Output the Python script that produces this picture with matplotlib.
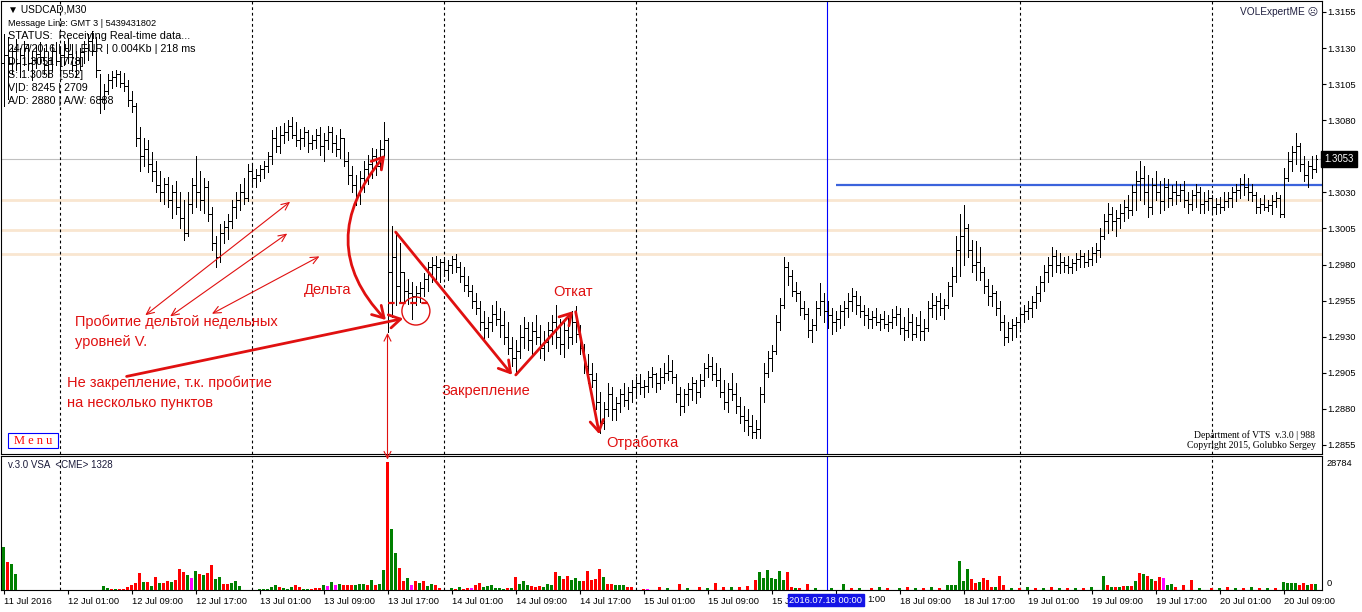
import matplotlib
matplotlib.use("Agg")
import numpy as np
import matplotlib.pyplot as plt
import matplotlib.transforms as mtransforms
from matplotlib.collections import LineCollection
from matplotlib.patches import FancyArrowPatch, Ellipse, ConnectionPatch, Rectangle
from matplotlib.path import Path

plt.rcParams['font.family'] = ['Liberation Sans', 'DejaVu Sans']

# ---------------- data (USDCAD M30) ----------------
first_bar = -14          # bar index of 11 Jul 2016 17:00 (0 = 12 Jul 00:00)
first_open = 1.3120

highs = [
    1.3140, 1.3138, 1.3132, 1.3136, 1.3130, 1.3135, 1.3133, 1.3128, 1.3132, 1.3134, 1.3130, 1.3127, 1.3132, 1.3134,
    1.3130, 1.3135, 1.3137, 1.3133, 1.3128, 1.3130, 1.3135, 1.3140, 1.3142, 1.3138, 1.3112, 1.3105, 1.3112, 1.3114, 1.3115, 1.3114,
    1.3113, 1.3108, 1.3100, 1.3092, 1.3075, 1.3068, 1.3066, 1.3058, 1.3052, 1.3045, 1.3040, 1.3041, 1.3035, 1.3038, 1.3030, 1.3025,
    1.3030, 1.3040, 1.3055, 1.3045, 1.3040, 1.3038, 1.3020, 1.3000, 1.3008, 1.3010, 1.3015, 1.3025, 1.3030, 1.3036, 1.3040, 1.3050,
    1.3050, 1.3046, 1.3049, 1.3052, 1.3058, 1.3073, 1.3075, 1.3076, 1.3078, 1.3080, 1.3082, 1.3079, 1.3074, 1.3075, 1.3073, 1.3070,
    1.3074, 1.3075, 1.3071, 1.3076, 1.3075, 1.3070, 1.3074, 1.3068, 1.3058, 1.3048, 1.3042, 1.3045, 1.3052, 1.3056, 1.3061, 1.3060,
    1.3066, 1.3079, 1.3068, 1.3007, 1.3002, 1.2995, 1.2975, 1.2970, 1.2968, 1.2965, 1.2968, 1.2974, 1.2982, 1.2985, 1.2986, 1.2984,
    1.2985, 1.2983, 1.2986, 1.2987, 1.2982, 1.2978, 1.2972, 1.2966, 1.2960, 1.2955, 1.2948, 1.2944, 1.2952, 1.2955, 1.2950, 1.2948,
    1.2940, 1.2930, 1.2928, 1.2938, 1.2944, 1.2940, 1.2940, 1.2945, 1.2938, 1.2934, 1.2940, 1.2945, 1.2952, 1.2942, 1.2940, 1.2945,
    1.2948, 1.2951, 1.2938, 1.2925, 1.2918, 1.2912, 1.2905, 1.2892, 1.2885, 1.2898, 1.2895, 1.2888, 1.2894, 1.2898, 1.2895, 1.2900,
    1.2902, 1.2904, 1.2900, 1.2906, 1.2909, 1.2905, 1.2908, 1.2912, 1.2917, 1.2914, 1.2904, 1.2895, 1.2894, 1.2898, 1.2902, 1.2900,
    1.2904, 1.2912, 1.2918, 1.2916, 1.2912, 1.2908, 1.2900, 1.2898, 1.2905, 1.2898, 1.2888, 1.2882, 1.2880, 1.2876, 1.2872, 1.2895,
    1.2912, 1.2920, 1.2924, 1.2945, 1.2957, 1.2985, 1.2982, 1.2976, 1.2968, 1.2962, 1.2955, 1.2950, 1.2942, 1.2955, 1.2967, 1.2960,
    1.2955, 1.2950, 1.2948, 1.2952, 1.2955, 1.2960, 1.2964, 1.2962, 1.2958, 1.2952, 1.2950, 1.2948, 1.2950, 1.2946, 1.2948, 1.2945,
    1.2949, 1.2951, 1.2950, 1.2944, 1.2950, 1.2946, 1.2944, 1.2948, 1.2942, 1.2955, 1.2960, 1.2958, 1.2960, 1.2956, 1.2968, 1.2978,
    1.3000, 1.3015, 1.3021, 1.3008, 1.2997, 1.2996, 1.2992, 1.2978, 1.2970, 1.2966, 1.2962, 1.2955, 1.2945, 1.2940, 1.2942, 1.2944,
    1.2950, 1.2952, 1.2955, 1.2958, 1.2965, 1.2972, 1.2980, 1.2985, 1.2992, 1.2990, 1.2988, 1.2985, 1.2986, 1.2984, 1.2988, 1.2990,
    1.2988, 1.2990, 1.2992, 1.2995, 1.3005, 1.3015, 1.3023, 1.3020, 1.3018, 1.3022, 1.3025, 1.3028, 1.3035, 1.3045, 1.3052, 1.3048,
    1.3042, 1.3040, 1.3045, 1.3038, 1.3040, 1.3039, 1.3035, 1.3038, 1.3036, 1.3038, 1.3030, 1.3032, 1.3036, 1.3034, 1.3030, 1.3032,
    1.3028, 1.3026, 1.3027, 1.3030, 1.3030, 1.3034, 1.3036, 1.3040, 1.3043, 1.3040, 1.3036, 1.3030, 1.3026, 1.3028, 1.3025, 1.3028,
    1.3030, 1.3028, 1.3047, 1.3058, 1.3062, 1.3071, 1.3064, 1.3055, 1.3052, 1.3055, 1.3056,
]
lows = [
    1.3090, 1.3095, 1.3112, 1.3115, 1.3110, 1.3118, 1.3115, 1.3108, 1.3116, 1.3120, 1.3112, 1.3110, 1.3115, 1.3118,
    1.3112, 1.3118, 1.3120, 1.3114, 1.3110, 1.3115, 1.3120, 1.3122, 1.3125, 1.3110, 1.3085, 1.3088, 1.3098, 1.3102, 1.3104, 1.3103,
    1.3100, 1.3090, 1.3086, 1.3062, 1.3045, 1.3048, 1.3044, 1.3038, 1.3030, 1.3024, 1.3022, 1.3020, 1.3012, 1.3015, 1.3005, 1.2997,
    1.3000, 1.3016, 1.3020, 1.3018, 1.3016, 1.3010, 1.2990, 1.2978, 1.2982, 1.2995, 1.2998, 1.3005, 1.3012, 1.3018, 1.3022, 1.3024,
    1.3035, 1.3034, 1.3038, 1.3040, 1.3044, 1.3050, 1.3058, 1.3057, 1.3064, 1.3066, 1.3068, 1.3062, 1.3060, 1.3062, 1.3058, 1.3060,
    1.3061, 1.3056, 1.3052, 1.3060, 1.3058, 1.3055, 1.3054, 1.3048, 1.3036, 1.3030, 1.3021, 1.3022, 1.3030, 1.3036, 1.3040, 1.3042,
    1.3046, 1.3055, 1.2933, 1.2944, 1.2952, 1.2955, 1.2955, 1.2953, 1.2942, 1.2952, 1.2954, 1.2958, 1.2962, 1.2968, 1.2970, 1.2968,
    1.2972, 1.2969, 1.2974, 1.2975, 1.2968, 1.2962, 1.2958, 1.2950, 1.2946, 1.2935, 1.2928, 1.2930, 1.2934, 1.2938, 1.2930, 1.2925,
    1.2918, 1.2910, 1.2905, 1.2915, 1.2922, 1.2921, 1.2918, 1.2925, 1.2915, 1.2914, 1.2920, 1.2925, 1.2922, 1.2918, 1.2916, 1.2922,
    1.2925, 1.2926, 1.2918, 1.2905, 1.2898, 1.2895, 1.2880, 1.2863, 1.2866, 1.2875, 1.2872, 1.2872, 1.2878, 1.2882, 1.2880, 1.2885,
    1.2888, 1.2890, 1.2888, 1.2892, 1.2895, 1.2892, 1.2894, 1.2898, 1.2900, 1.2898, 1.2885, 1.2876, 1.2878, 1.2883, 1.2886, 1.2884,
    1.2888, 1.2896, 1.2902, 1.2900, 1.2896, 1.2888, 1.2880, 1.2878, 1.2886, 1.2877, 1.2870, 1.2865, 1.2862, 1.2860, 1.2860, 1.2860,
    1.2885, 1.2902, 1.2906, 1.2918, 1.2935, 1.2950, 1.2966, 1.2958, 1.2955, 1.2945, 1.2942, 1.2930, 1.2926, 1.2935, 1.2945, 1.2940,
    1.2936, 1.2932, 1.2934, 1.2936, 1.2938, 1.2944, 1.2948, 1.2946, 1.2944, 1.2938, 1.2936, 1.2936, 1.2938, 1.2935, 1.2936, 1.2934,
    1.2936, 1.2938, 1.2932, 1.2928, 1.2930, 1.2928, 1.2930, 1.2928, 1.2928, 1.2934, 1.2944, 1.2942, 1.2945, 1.2942, 1.2950, 1.2958,
    1.2968, 1.2972, 1.2980, 1.2985, 1.2975, 1.2969, 1.2969, 1.2960, 1.2952, 1.2951, 1.2945, 1.2935, 1.2924, 1.2926, 1.2928, 1.2930,
    1.2936, 1.2940, 1.2942, 1.2944, 1.2950, 1.2955, 1.2962, 1.2968, 1.2972, 1.2975, 1.2974, 1.2975, 1.2974, 1.2974, 1.2976, 1.2978,
    1.2978, 1.2979, 1.2980, 1.2982, 1.2985, 1.2998, 1.3002, 1.3004, 1.3000, 1.3005, 1.3010, 1.3012, 1.3014, 1.3018, 1.3025, 1.3022,
    1.3013, 1.3015, 1.3025, 1.3016, 1.3018, 1.3020, 1.3021, 1.3022, 1.3024, 1.3020, 1.3016, 1.3018, 1.3020, 1.3016, 1.3016, 1.3018,
    1.3016, 1.3015, 1.3016, 1.3018, 1.3020, 1.3020, 1.3024, 1.3026, 1.3028, 1.3025, 1.3024, 1.3016, 1.3016, 1.3018, 1.3017, 1.3015,
    1.3020, 1.3013, 1.3013, 1.3038, 1.3045, 1.3050, 1.3045, 1.3038, 1.3034, 1.3040, 1.3044,
]
closes = [
    1.3125, 1.3120, 1.3128, 1.3120, 1.3125, 1.3130, 1.3120, 1.3122, 1.3126, 1.3124, 1.3118, 1.3122, 1.3128, 1.3121,
    1.3125, 1.3130, 1.3126, 1.3118, 1.3122, 1.3127, 1.3130, 1.3135, 1.3128, 1.3115, 1.3095, 1.3100, 1.3108, 1.3110, 1.3112, 1.3106,
    1.3104, 1.3094, 1.3090, 1.3068, 1.3055, 1.3060, 1.3050, 1.3045, 1.3035, 1.3030, 1.3036, 1.3025, 1.3030, 1.3020, 1.3012, 1.3002,
    1.3022, 1.3035, 1.3030, 1.3025, 1.3034, 1.3015, 1.2995, 1.2985, 1.3002, 1.3006, 1.3010, 1.3020, 1.3025, 1.3030, 1.3026, 1.3045,
    1.3040, 1.3042, 1.3046, 1.3048, 1.3055, 1.3068, 1.3062, 1.3070, 1.3072, 1.3076, 1.3070, 1.3066, 1.3068, 1.3072, 1.3064, 1.3066,
    1.3070, 1.3062, 1.3066, 1.3072, 1.3064, 1.3060, 1.3068, 1.3052, 1.3042, 1.3035, 1.3028, 1.3040, 1.3046, 1.3050, 1.3055, 1.3048,
    1.3060, 1.3066, 1.2975, 1.2985, 1.2965, 1.2975, 1.2962, 1.2960, 1.2958, 1.2960, 1.2964, 1.2970, 1.2978, 1.2980, 1.2978, 1.2982,
    1.2976, 1.2980, 1.2984, 1.2978, 1.2972, 1.2966, 1.2962, 1.2955, 1.2950, 1.2940, 1.2936, 1.2940, 1.2946, 1.2942, 1.2938, 1.2930,
    1.2922, 1.2915, 1.2920, 1.2930, 1.2936, 1.2928, 1.2934, 1.2930, 1.2922, 1.2926, 1.2935, 1.2940, 1.2930, 1.2925, 1.2935, 1.2930,
    1.2940, 1.2932, 1.2922, 1.2910, 1.2904, 1.2900, 1.2885, 1.2870, 1.2880, 1.2890, 1.2880, 1.2884, 1.2890, 1.2886, 1.2892, 1.2895,
    1.2898, 1.2895, 1.2896, 1.2902, 1.2904, 1.2898, 1.2902, 1.2905, 1.2906, 1.2902, 1.2890, 1.2882, 1.2890, 1.2894, 1.2898, 1.2892,
    1.2900, 1.2908, 1.2910, 1.2904, 1.2900, 1.2892, 1.2885, 1.2894, 1.2890, 1.2882, 1.2875, 1.2872, 1.2868, 1.2864, 1.2866, 1.2890,
    1.2905, 1.2915, 1.2920, 1.2940, 1.2952, 1.2978, 1.2972, 1.2962, 1.2960, 1.2950, 1.2946, 1.2935, 1.2938, 1.2950, 1.2955, 1.2948,
    1.2945, 1.2940, 1.2942, 1.2948, 1.2950, 1.2955, 1.2958, 1.2952, 1.2948, 1.2945, 1.2942, 1.2944, 1.2940, 1.2942, 1.2939, 1.2940,
    1.2944, 1.2946, 1.2936, 1.2935, 1.2940, 1.2932, 1.2938, 1.2934, 1.2936, 1.2950, 1.2952, 1.2955, 1.2950, 1.2952, 1.2965, 1.2972,
    1.2990, 1.3000, 1.3005, 1.2990, 1.2980, 1.2982, 1.2975, 1.2965, 1.2958, 1.2960, 1.2950, 1.2940, 1.2930, 1.2936, 1.2938, 1.2940,
    1.2946, 1.2948, 1.2950, 1.2954, 1.2960, 1.2968, 1.2975, 1.2980, 1.2986, 1.2980, 1.2982, 1.2980, 1.2978, 1.2981, 1.2984, 1.2986,
    1.2982, 1.2984, 1.2988, 1.2990, 1.3000, 1.3010, 1.3015, 1.3010, 1.3012, 1.3016, 1.3020, 1.3018, 1.3030, 1.3038, 1.3040, 1.3030,
    1.3020, 1.3035, 1.3030, 1.3024, 1.3034, 1.3026, 1.3030, 1.3028, 1.3032, 1.3025, 1.3022, 1.3028, 1.3030, 1.3022, 1.3024, 1.3026,
    1.3020, 1.3022, 1.3020, 1.3024, 1.3026, 1.3030, 1.3032, 1.3036, 1.3034, 1.3030, 1.3028, 1.3020, 1.3022, 1.3020, 1.3021, 1.3024,
    1.3026, 1.3015, 1.3040, 1.3052, 1.3058, 1.3062, 1.3050, 1.3042, 1.3048, 1.3046, 1.3053,
]
volumes = [
    9700, 6300, 5800, 3600, 0, 0, 0, 0, 0, 0, 0, 0, 0, 0,
    0, 0, 0, 0, 0, 0, 0, 0, 0, 0, 0, 820, 380, 220, 220, 220,
    220, 670, 1100, 1560, 3800, 1780, 1780, 960, 2900, 1560, 1560, 1940, 1780, 2230, 4680, 4010,
    3350, 2680, 4240, 3570, 3350, 3800, 5580, 2450, 2900, 1340, 1340, 1560, 2000, 900, 0, 0,
    0, 0, 220, 220, 220, 670, 1100, 670, 450, 220, 670, 1100, 670, 220, 220, 220,
    450, 450, 1100, 900, 1780, 1100, 1340, 1100, 1100, 1100, 1100, 1340, 1340, 1100, 2230, 1100,
    1340, 4460, 28784, 13600, 8250, 4900, 2000, 2680, 1100, 2000, 1560, 2000, 900, 1340, 1100, 450,
    0, 0, 450, 220, 670, 220, 450, 450, 1100, 1560, 670, 900, 1100, 450, 450, 220,
    450, 450, 2900, 1340, 2000, 1100, 900, 670, 900, 670, 1340, 1100, 4010, 3120, 2450, 3120,
    2230, 2680, 2000, 2000, 4240, 2230, 2450, 4680, 2900, 1340, 1340, 1100, 1100, 1100, 670, 670,
    0, 0, 220, 220, 0, 0, 700, 0, 450, 0, 0, 1350, 0, 450, 0, 0,
    700, 0, 450, 0, 1600, 0, 700, 0, 700, 0, 700, 0, 900, 0, 2250, 4050,
    2700, 4500, 2700, 2500, 4300, 2250, 4050, 700, 450, 450, 0, 1350, 0, 450, 0, 0,
    0, 450, 0, 0, 1350, 0, 450, 0, 450, 0, 0, 450, 0, 700, 0, 450,
    0, 0, 450, 0, 700, 0, 450, 0, 450, 0, 700, 0, 450, 0, 1100, 1100,
    1100, 6500, 2000, 4700, 2500, 1600, 1800, 2700, 2250, 700, 700, 3150, 1100, 0, 450, 0,
    450, 0, 700, 0, 450, 0, 450, 0, 700, 0, 450, 0, 450, 0, 450, 0,
    450, 0, 700, 0, 0, 3150, 1100, 700, 700, 700, 900, 900, 900, 2000, 3800, 3600,
    3150, 2500, 2000, 2900, 2700, 1100, 1350, 700, 0, 1100, 0, 2250, 0, 450, 0, 0,
    450, 0, 450, 0, 700, 0, 450, 0, 450, 0, 700, 0, 450, 0, 450, 0,
    450, 0, 1800, 1600, 1600, 1600, 1100, 1600, 1100, 1350, 1350,
]
vol_colors = (
    "grgggggggggggg"
    "gggggggggggggrgr"
    "rrrrrgrgrgrrgrrr"
    "gmgrgrrggrrggggg"
    "gggggggrgggrrggr"
    "rrgmgmgrrrgggrgr"
    "ggrggrrgmrgrggrr"
    "gggrgrrmrrgggggg"
    "rgrgggrrrgggrgrr"
    "gggrrrrrgrrgggrr"
    "ggrmggrggggrgggg"
    "rgggrgrgggrgrgrg"
    "ggggggrrgrgrgggg"
    "ggggggrggggrgggr"
    "ggggrgggrgggrggg"
    "ggggrrgrrrgrrggg"
    "rgggrgggrgggrggg"
    "rgggggrgrgrgrgrg"
    "rgrrmggrgrgrgggg"
    "rgggrgggrgggrggg"
    "rgggggrrgrg"
)

tick_idx = [-14, 2, 18, 34, 50, 66, 82, 98, 114, 130, 146, 162, 178, 194, 210, 226, 242, 258, 274, 290, 306]
tick_labels = ["11 Jul 2016", "12 Jul 01:00", "12 Jul 09:00", "12 Jul 17:00", "13 Jul 01:00", "13 Jul 09:00",
               "13 Jul 17:00", "14 Jul 01:00", "14 Jul 09:00", "14 Jul 17:00", "15 Jul 01:00", "15 Jul 09:00",
               "15 J", "", "18 Jul 09:00", "18 Jul 17:00", "19 Jul 01:00", "19 Jul 09:00",
               "19 Jul 17:00", "20 Jul 01:00", "20 Jul 09:00"]
hidden_label_tail = "1:00"        # visible tail of "18 Jul 01:00" behind the cursor box
cursor_label = "2016.07.18 00:00"
day_starts = [0, 48, 96, 144, 240, 288]
week_start = 192
price_ticks = [1.3155, 1.3130, 1.3105, 1.3080, 1.3030, 1.3005, 1.2980, 1.2955, 1.2930, 1.2905, 1.2880, 1.2855]
peach_levels = [1.30247, 1.30040, 1.29875]
blue_level = 1.30351
blue_level_start = 194
bid_price = 1.3053
vol_max_label = 28784

lens = {k: len(v) for k, v in dict(h=highs, l=lows, c=closes, v=volumes, vc=vol_colors).items()}
if len(set(lens.values())) != 1:
    raise SystemExit(f"length mismatch {lens}")

# ---------------- figure ----------------
W, H = 1362, 612
fig = plt.figure(figsize=(W / 100, H / 100), dpi=100)
fig.patch.set_facecolor('white')

def fx(px):
    return px / W

def fy(py):
    return 1 - py / H

ax = fig.add_axes([fx(1), fy(454), fx(1322) - fx(1), fy(1) - fy(454)])
ax2 = fig.add_axes([fx(1), fy(590), fx(1322) - fx(1), fy(456) - fy(590)], sharex=ax)

n = len(highs)
t = np.arange(first_bar, first_bar + n)
opens = [first_open] + closes[:-1]

xmin, xmax = -14.625, 315.625
ax.set_xlim(xmin, xmax)
ax.set_ylim(1.284874, 1.316262)

# level lines
for lv in peach_levels:
    ax.axhline(lv, color='#f9e6d0', lw=2.0, zorder=1)
ax.axhline(bid_price, color='#c0c0c0', lw=0.8, zorder=1)
ax.hlines(blue_level, blue_level_start, xmax, color='#3b63dc', lw=1.6, zorder=2)

# separators
for a in (ax, ax2):
    for d in day_starts:
        a.axvline(d, color='black', lw=0.8, ls=(0, (2.5, 2.5)), zorder=1)
    a.axvline(week_start - 0.1, color='#0000ff', lw=0.8, zorder=1)

# OHLC bars
segs = []
for ti, o, h, l, c in zip(t, opens, highs, lows, closes):
    segs.append([(ti, l), (ti, h)])
    segs.append([(ti - 0.45, o), (ti, o)])
    segs.append([(ti, c), (ti + 0.45, c)])
ax.add_collection(LineCollection(segs, colors='black', linewidths=0.5, antialiaseds=False, zorder=3))

# volumes
cmap = {'g': '#008000', 'r': '#ff0000', 'm': '#ff00ff'}
ax2.bar(t, volumes, width=0.72, color=[cmap[c] for c in vol_colors], linewidth=0, zorder=3)
ax2.set_ylim(0, 30100)

# axes styling
for a in (ax, ax2):
    for s in a.spines.values():
        s.set_color('black')
        s.set_linewidth(0.8)
ax.yaxis.tick_right()
ax.set_yticks(price_ticks)
ax.set_yticklabels([f"{p:.4f}" for p in price_ticks])
ax.tick_params(axis='y', direction='out', length=3, width=0.8, labelsize=6.7, pad=1)
ax.tick_params(axis='x', bottom=False, labelbottom=False)
ax2.set_yticks([])
ax2.set_xticks(tick_idx)
ax2.set_xticklabels(tick_labels)
ax2.tick_params(axis='x', direction='out', length=3, width=0.8, labelsize=6.7, pad=2)
for lbl in ax2.get_xticklabels():
    lbl.set_ha('left')
trans_xa = mtransforms.blended_transform_factory(ax2.transData, ax2.transAxes)
ax2.text(201.9, -0.038, hidden_label_tail, transform=trans_xa, fontsize=6.7, ha='left', va='top', clip_on=False)

# bid label
trans_ay = mtransforms.blended_transform_factory(ax.transAxes, ax.transData)
ax.text(1.0018, bid_price, f"{bid_price:.4f}", transform=trans_ay, color='white', fontsize=6.9,
        va='center', ha='left', clip_on=False, zorder=10,
        bbox=dict(boxstyle='square,pad=0.33', fc='black', ec='black'))

# volume labels
fig.text(fx(1327), fy(463), str(vol_max_label), fontsize=6.7, va='center', ha='left')
fig.text(fx(1327), fy(583), "0", fontsize=6.7, va='center', ha='left')
fig.text(fx(8), fy(465), "v.3.0 VSA  <CME> 1328", fontsize=7, va='center', ha='left', color='#1a1a3a')

# crosshair date box
ax2.text(week_start - 0.4, -0.075, cursor_label, transform=trans_xa, color='white', fontsize=6.7,
         ha='center', va='center', clip_on=False, zorder=10,
         bbox=dict(boxstyle='square,pad=0.2', fc='#1414e6', ec='#1414e6'))

# top-left info
info = [("\u25bc USDCAD,M30", 9, 7.3), ("Message Line: GMT 3 | 5439431802", 23, 6.6),
        ("STATUS:  Receiving Real-time data...", 36, 7.8), ("24/7/2016 | U | EUR | 0.004Kb | 218 ms", 49, 7.7),
        ("D: 1.3051  [778]", 62, 7.7), ("S: 1.3058  [552]", 75, 7.7),
        ("V|D: 8245 | 2709", 88, 7.7), ("A/D: 2880 | A/W: 6888", 101, 7.7)]
for s, y, fs in info:
    fig.text(fx(8), fy(y), s, fontsize=fs, va='center', ha='left', color='black')

fig.text(fx(1318), fy(12), "VOLExpertME \u2639", fontsize=7.3, va='center', ha='right', color='#202040',
         family=['Liberation Sans', 'DejaVu Sans'])
fig.text(fx(1315), fy(435), "Department of VTS  v.3.0 | 988", fontsize=6.9, va='center', ha='right',
         family='Liberation Serif')
fig.text(fx(1316), fy(446), "Copyright 2015, Golubko Sergey", fontsize=6.9, va='center', ha='right',
         family='Liberation Serif')
fig.add_artist(Rectangle((fx(8), fy(448)), fx(58) - fx(8), fy(433) - fy(448), transform=fig.transFigure,
                         fc='white', ec='#0000ff', lw=0.8, zorder=5))
fig.text(fx(33), fy(440.5), "M e n u", fontsize=9, va='center', ha='center', color='#ff0000',
         family='Liberation Serif', zorder=6)

# ---------------- annotations ----------------
RED = '#e01010'

def arrow(a, p0, p1, style, lw, ms, **kw):
    ar = FancyArrowPatch(p0, p1, arrowstyle=style, mutation_scale=ms, lw=lw, color=RED,
                         zorder=6, **kw)
    a.add_patch(ar)

thin = '<->,head_length=0.55,head_width=0.25'
arrow(ax, (20.9, 1.29437), (58.2, 1.30247), thin, 0.8, 10)
arrow(ax, (27.1, 1.29430), (57.5, 1.30026), thin, 0.8, 10)
arrow(ax, (37.5, 1.29450), (65.6, 1.29866), thin, 0.8, 10)

thick = '->,head_length=0.5,head_width=0.3'
arrow(ax, (16.1, 1.29021), (86.6, 1.29430), thick, 2.0, 16)
arrow(ax, (83.6, 1.30040), (113.6, 1.29021), thick, 2.0, 16)
arrow(ax, (113.6, 1.29021), (128.9, 1.29492), thick, 2.0, 16)
arrow(ax, (128.9, 1.29492), (135.1, 1.28605), thick, 2.0, 16)

curve = Path([(81.6, 1.29416), (63.2, 1.29953), (81.4, 1.30559)], [Path.MOVETO, Path.CURVE3, Path.CURVE3])
ax.add_patch(FancyArrowPatch(path=curve, arrowstyle='<->,head_length=0.5,head_width=0.3',
                             mutation_scale=16, lw=2.0, color=RED, zorder=6))

ax.plot([82.1, 92.6], [1.29534, 1.29534], color=RED, lw=1.6, ls=(0, (3, 2)), zorder=6)
ax.add_patch(Ellipse((89.1, 1.29478), width=7.0, height=0.00194, fill=False, ec=RED, lw=1.0, zorder=6))

cp = ConnectionPatch(xyA=(82, 1.29326), coordsA=ax.transData, xyB=(82, 29300), coordsB=ax2.transData,
                     arrowstyle='<->,head_length=0.5,head_width=0.25', mutation_scale=10, lw=0.8, color=RED, zorder=6)
fig.add_artist(cp)

TFS = 10.5
for s, x, y in [("Пробитие дельтой недельных", 3.9, 1.29402), ("уровней V.", 3.9, 1.29263),
                ("Не закрепление, т.к. пробитие", 1.9, 1.28979), ("на несколько пунктов", 1.9, 1.28841),
                ("Дельта", 61.1, 1.29624), ("Закрепление", 95.4, 1.28924), ("Откат", 123.4, 1.29610),
                ("Отработка", 136.6, 1.28564)]:
    ax.text(x, y, s, color=RED, fontsize=TFS, ha='left', va='center', zorder=7)

fig.savefig("out.png", dpi=100)
